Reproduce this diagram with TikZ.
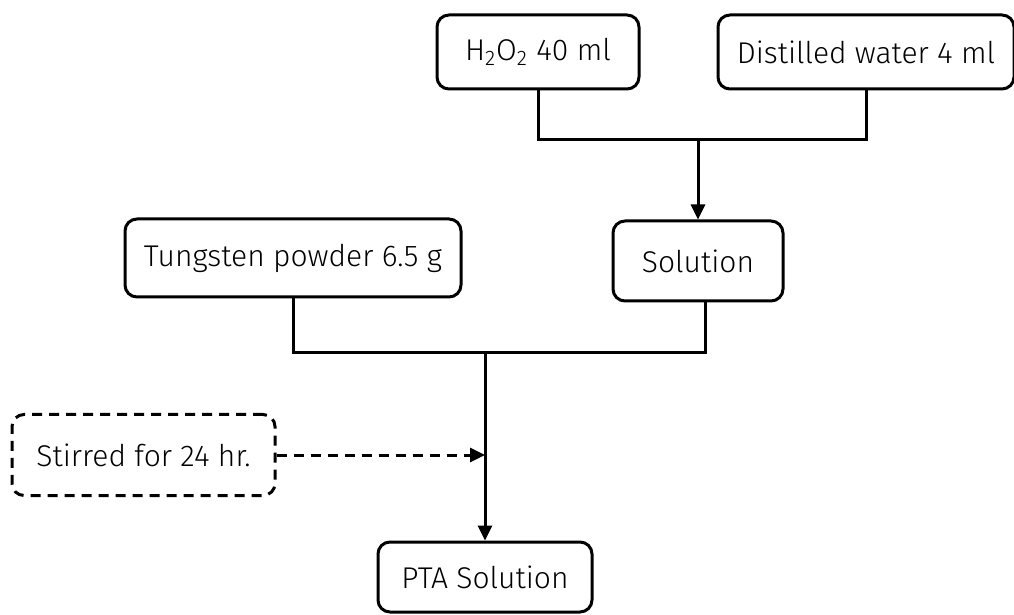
\documentclass[tikz,border=0pt]{standalone}
\usepackage{fontspec}
\setmainfont{Fira Sans}[UprightFont={* Light}]
\usepackage{tikz}
\usetikzlibrary{arrows.meta, positioning}

\begin{document}
\begin{tikzpicture}[
  x=0.5pt, y=-0.5pt,
  box/.style={rectangle, rounded corners=6pt, draw, line width=1.5pt, inner sep=0pt, font=\fontsize{15}{18}\selectfont},
  dbox/.style={box, dash pattern=on 5pt off 3.5pt},
  line/.style={line width=1.5pt},
  arrow/.style={line, -{Triangle[length=7.5pt, width=7pt]}},
  darrow/.style={arrow, dash pattern=on 5pt off 3.5pt}
]
\useasboundingbox (0,0) rectangle (1014,615);

\node[box, minimum width=101pt, minimum height=37pt] (h2o2) at (538,52) {H\textsubscript{2}O\textsubscript{2} 40 ml};
\node[box, minimum width=148pt, minimum height=37pt] (water) at (866,52) {Distilled water 4 ml};
\node[box, minimum width=168pt, minimum height=39pt] (tung) at (293,258) {Tungsten powder 6.5 g};
\node[box, minimum width=85pt, minimum height=40pt] (sol) at (698,261) {Solution};
\node[dbox, minimum width=131.5pt, minimum height=40.5pt] (stir) at (143.5,455) {Stirred for 24 hr.};
\node[box, minimum width=107pt, minimum height=35pt] (pta) at (485,577) {PTA Solution};

\coordinate (j1) at (698,140);
\coordinate (j2) at (485,353);

\draw[line] (h2o2.south) |- (j1);
\draw[line] (water.south) |- (j1);
\draw[arrow] (j1) -- (sol.north);

\draw[line] (tung.south) |- (j2);
\draw[line] ([xshift=3.5pt]sol.south) |- (j2);
\draw[arrow] (j2) -- (pta.north);

\draw[darrow] (stir.east) -- (stir.east -| j2);
\end{tikzpicture}
\end{document}
